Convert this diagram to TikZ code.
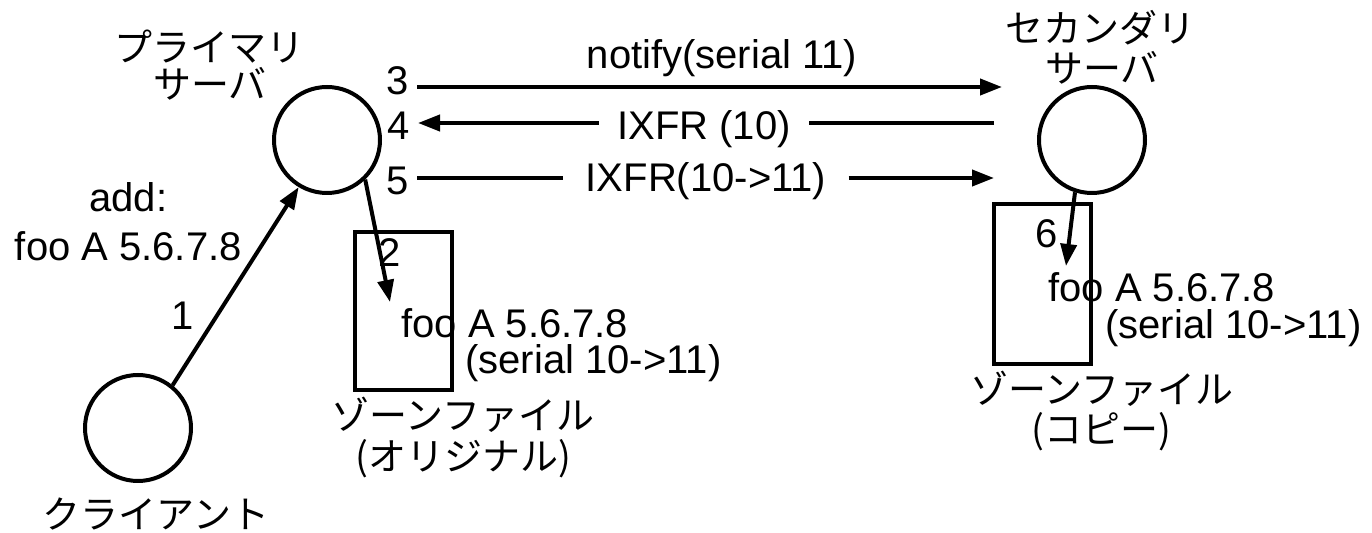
\documentclass[tikz,border=0pt]{standalone}
\usepackage{fontspec}
\setmainfont{Liberation Sans}
\newfontfamily\jpfont{Noto Sans CJK JP}
\usetikzlibrary{arrows.meta}
\begin{document}
\begin{tikzpicture}[x=0.5pt,y=-0.5pt,
  lbl/.style={inner sep=0pt,font=\fontsize{20}{24}\selectfont},
  jp/.style={inner sep=0pt,font=\jpfont\fontsize{19}{23}\selectfont},
  host/.style={circle,draw,line width=2pt,minimum size=53pt,inner sep=0pt},
  zone/.style={rectangle,draw,line width=2pt,minimum width=48.5pt,inner sep=0pt},
  msg/.style={line width=2pt},
  arr/.style={msg,-{Triangle[length=11pt,width=8pt]}},
  cut/.style={lbl,inner ysep=0pt}]
\useasboundingbox (0,0) rectangle (1372,533);

% hosts
\node[host] (primary) at (327,140) {};
\node[host] (secondary) at (1092,140) {};
\node[host] (client) at (138,428) {};

% zone files
\node[zone,minimum height=79pt] (zorig) at (403.5,311) {};
\node[zone,minimum height=80pt] (zcopy) at (1042.5,284) {};

% host names
\node[jp] (tprim1) at (209,47) {プライマリ};
\node[jp] (tprim2) at (210,84) {サーバ};
\node[jp] (tsec1) at (1100,28) {セカンダリ};
\node[jp] (tsec2) at (1102,68) {サーバ};
\node[jp] (tcli) at (156,514) {クライアント};
\node[jp] (tzo1) at (463,415) {ゾーンファイル};
\node[jp] (tzo2) at (463,459) {(オリジナル)};
\node[jp] (tzc1) at (1102,389) {ゾーンファイル};
\node[jp] (tzc2) at (1101,432) {(コピー)};

% step numbers
\node[lbl,anchor=base west] (n3) at (386,95) {3};
\node[lbl,anchor=base west] (n4) at (387,140) {4};
\node[lbl,anchor=base west] (n5) at (386,195) {5};
\node[lbl,anchor=base] (n1) at (183,330) {1};
\node[lbl,anchor=base] (n2) at (390,267) {2};
\node[lbl,anchor=base] (n6) at (1047,248) {6};

% record texts
\node[lbl,anchor=base west] (add1) at (89,212) {add:};
\node[lbl,anchor=base west] (add2) at (14.5,261) {foo A 5.6.7.8};
\node[lbl,anchor=base west] (rec1) at (401,338) {foo A 5.6.7.8};
\node[lbl,anchor=base west] (ser1) at (465,374) {(serial 10->11)};
\node[lbl,anchor=base west] (rec2) at (1048,302) {foo A 5.6.7.8};
\node[lbl,anchor=base west] (ser2) at (1105,338.5) {(serial 10->11)};

% message labels
\node[lbl,anchor=base] (notify) at (722,69) {notify(serial 11)};
\node[cut,anchor=base,inner xsep=9pt] (ixfr10) at (704,140) {IXFR (10)};
\node[cut,anchor=base,inner xsep=11pt] (ixfr11) at (706,192) {IXFR(10->11)};

% message end points
\coordinate (m3s) at (417,87);
\coordinate (m3e) at (1002,87);
\coordinate (m4s) at (994,123);
\coordinate (m4e) at (418,123);
\coordinate (m5s) at (417,178);
\coordinate (m5e) at (994,178);
\coordinate (w2) at (390,302);
\coordinate (w6) at (1066,266);

% client update and zone writes
\draw[arr] (client.51) -- (primary.239);
\draw[arr] (primary.314) -- (w2);
\draw[arr] (secondary.252) -- (w6);

% notify
\draw[arr] (m3s) -- (m3e);
% IXFR request
\draw[msg] (m4s) -- (m4s -| ixfr10.east);
\draw[arr] (m4s -| ixfr10.west) -- (m4e);
% IXFR response
\draw[msg] (m5s) -- (m5s -| ixfr11.west);
\draw[arr] (m5s -| ixfr11.east) -- (m5e);
\end{tikzpicture}
\end{document}
